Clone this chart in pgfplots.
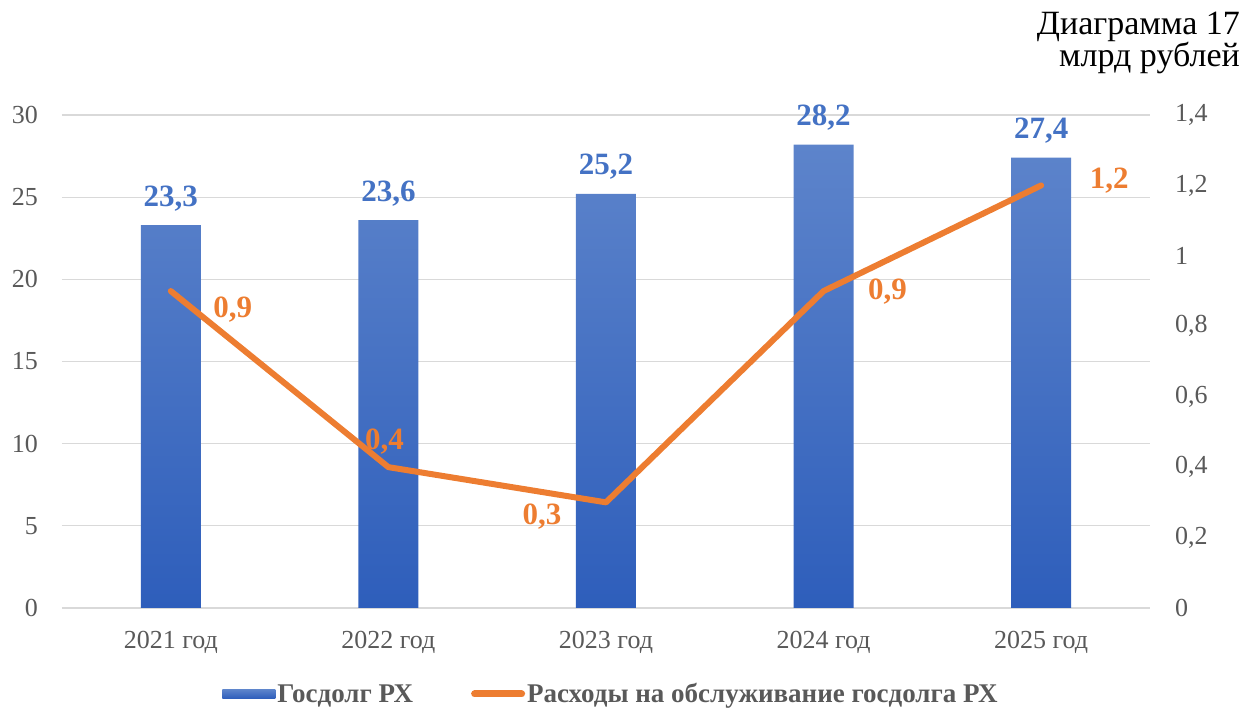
\documentclass[border=0pt]{standalone}
\usepackage{fontspec}
\setmainfont{Liberation Serif}
\usepackage{pgfplots}
\usepackage{pgfplotstable}
\pgfplotsset{compat=1.18}

\definecolor{barTop}{HTML}{5D84CB}
\definecolor{barBot}{HTML}{2E5EBB}
\definecolor{lblBlue}{HTML}{4472C4}
\definecolor{lineOr}{HTML}{ED7D31}
\definecolor{gridGr}{HTML}{D9D9D9}
\definecolor{tickGr}{HTML}{595959}

% bars: Госдолг РХ
\pgfplotstableread{
x  y
0  23.3
1  23.6
2  25.2
3  28.2
4  27.4
}\debt

% line: расходы на обслуживание, with label offsets
\pgfplotstableread{
x  y    dx   dy
0  0.9  62  -19
1  0.4  -4   26
2  0.3  -64 -14
3  0.9  64   -1
4  1.2  68    5
}\cost

\pgfplotsset{
  common/.style={
    scale only axis, width=1088pt, height=493pt,
    xmin=-0.5, xmax=4.5,
    major tick length=0,
    /pgf/number format/assume math mode=true,
    /pgf/number format/use comma,
    tick label style={font=\fontsize{26}{30}\selectfont, text=tickGr, inner sep=0pt},
  },
}

\begin{document}
\begin{tikzpicture}
\path[use as bounding box] (-62pt,-100pt) rectangle (1184pt,608pt);

\begin{axis}[
  common,
  ymin=0, ymax=30,
  ytick={0,5,...,30},
  xtick={0,1,2,3,4},
  xticklabels={2021 год,2022 год,2023 год,2024 год,2025 год},
  xticklabel style={anchor=base, yshift=-41pt},
  yticklabel style={anchor=east, xshift=-24pt},
  ymajorgrids, grid style={draw=gridGr, line width=1.2pt},
  axis line style={draw=none},
]
\addplot[ybar, bar width=60pt, draw=none, top color=barTop, bottom color=barBot,
  nodes near coords,
  nodes near coords style={anchor=south, inner sep=0pt, yshift=14pt,
    font=\fontsize{31}{34}\selectfont\bfseries, text=lblBlue,
    /pgf/number format/.cd, fixed, precision=1, use comma, assume math mode=true},
] table[x=x, y=y] {\debt};
\end{axis}

\begin{axis}[
  common,
  ymin=0, ymax=1.4,
  axis y line*=right, axis x line=none,
  y axis line style={draw=none},
  ytick={0,0.2,0.4,0.6,0.8,1,1.2,1.4},
  yticklabel style={anchor=west, xshift=25pt},
  legend style={at={(0.5046,-0.1744)}, anchor=center, draw=none, fill=none,
    legend columns=2, font=\fontsize{27}{30}\selectfont\bfseries, text=tickGr,
    /tikz/every even column/.append style={column sep=56pt},
    nodes={inner sep=2pt}},
]
\addlegendimage{draw=none, legend image code/.code={
  \path[draw=none, top color=barTop, bottom color=barBot] (0pt,-4.5pt) rectangle (53pt,4.5pt);}}
\addlegendentry{Госдолг РХ}

\addplot[lineOr, line width=6pt, line join=round, line cap=round, mark=none,
  legend image code/.code={\draw[lineOr, line width=7pt, line cap=round] (3pt,0pt) -- (50pt,0pt);},
  visualization depends on={\thisrow{dx} \as \dx},
  visualization depends on={\thisrow{dy} \as \dy},
  nodes near coords,
  every node near coord/.append style={anchor=center, inner sep=0pt,
    xshift=\dx pt, yshift=\dy pt,
    font=\fontsize{31}{34}\selectfont\bfseries, text=lineOr,
    /pgf/number format/.cd, fixed, precision=1, use comma, assume math mode=true},
] table[x=x, y=y] {\cost};
\addlegendentry{Расходы на обслуживание госдолга РХ}
\end{axis}

\node[anchor=base east, inner sep=0pt, font=\fontsize{34}{38}\selectfont] at (1178pt,573pt) {Диаграмма 17};
\node[anchor=base east, inner sep=0pt, font=\fontsize{34}{38}\selectfont] at (1178pt,541pt) {млрд рублей};
\end{tikzpicture}
\end{document}
